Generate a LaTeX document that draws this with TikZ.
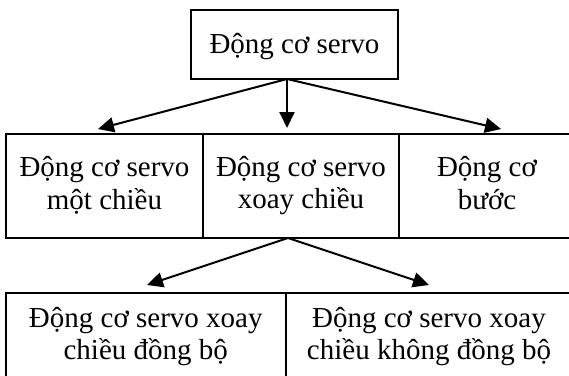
\documentclass[tikz,border=0pt]{standalone}
\usepackage{fontspec}
\setmainfont{Liberation Serif}
\usepackage{tikz}
\usetikzlibrary{arrows.meta, positioning}
\newcommand{\cellstrut}{\rule[-6pt]{0pt}{31pt}}
\tikzset{
  font=\fontsize{29}{32.5}\selectfont,
  baseblock/.style={
    rectangle, draw, line width=2pt, inner sep=0pt, outer sep=0pt,
    align=center,
    execute at begin node=\cellstrut, execute at end node=\cellstrut
  },
  rootblock/.style={baseblock, minimum width=207pt, minimum height=69pt},
  cellblock/.style={baseblock, minimum height=104.5pt},
  subblock/.style={baseblock, minimum height=87.5pt},
  flowline/.style={
    draw=black, -{Triangle[length=16pt, width=15pt]}, line width=2pt
  }
}

\begin{document}
\begin{tikzpicture}[x=1pt, y=-1pt]
  \useasboundingbox (0,0) rectangle (569,375);

  \node[rootblock] (servo) at (294.5,44.5) {Động cơ servo};

  % first row, the last cell runs past the page edge
  \node[cellblock, minimum width=197pt, anchor=north west] (dc_servo) at (6,133.5) {Động cơ servo\\một chiều};
  \node[cellblock, minimum width=196pt, right=0pt of dc_servo] (ac_servo) {Động cơ servo\\xoay chiều};
  \node[cellblock, minimum width=176pt, right=0pt of ac_servo] (stepper) {Động cơ\\bước};

  % second row
  \node[subblock, minimum width=280.5pt, anchor=north west] (sync_servo) at (5.5,293) {Động cơ servo xoay\\chiều đồng bộ};
  \node[subblock, minimum width=286pt, right=0pt of sync_servo] (async_servo) {Động cơ servo xoay\\chiều không đồng bộ};

  % arrow ends
  \coordinate (split_top) at (287,79);
  \coordinate (tip_dc) at (98,129);
  \coordinate (tip_ac) at (287,128);
  \coordinate (tip_step) at (501,129);
  \coordinate (split_mid) at (288,238);
  \coordinate (tip_sync) at (147,285);
  \coordinate (tip_async) at (429,285);

  \draw[flowline] (split_top) -- (tip_dc);
  \draw[flowline] (split_top) -- (tip_ac);
  \draw[flowline] (split_top) -- (tip_step);
  \draw[flowline] (split_mid) -- (tip_sync);
  \draw[flowline] (split_mid) -- (tip_async);
\end{tikzpicture}
\end{document}
